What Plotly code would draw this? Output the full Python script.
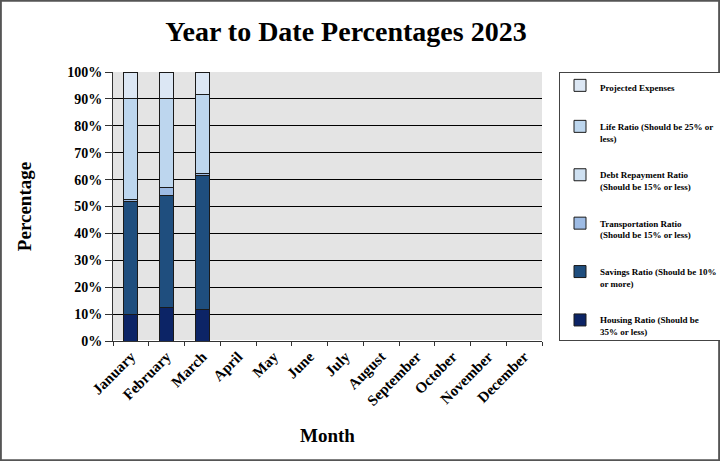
import plotly.graph_objects as go

months = ["January", "February", "March", "April", "May", "June", "July",
          "August", "September", "October", "November", "December"]

housing = [10.0, 12.3, 11.7]
savings = [41.7, 41.9, 49.7]
transportation = [1.0, 2.9, 0.9]
debt_repayment = [0.0, 0.0, 0.0]
life = [37.6, 33.2, 29.4]
projected = [9.7, 9.7, 8.3]

y_ticks = [0, 10, 20, 30, 40, 50, 60, 70, 80, 90, 100]
y_tick_labels = [f"{v}%" for v in y_ticks]

series = [
    ("Housing Ratio (Should be<br>35% or less)", housing, "#0C2466"),
    ("Savings Ratio (Should be 10%<br>or more)", savings, "#1F4E7E"),
    ("Transportation Ratio<br>(Should be 15% or less)", transportation, "#9DBBE4"),
    ("Debt Repayment Ratio<br>(Should be 15% or less)", debt_repayment, "#CFE1F2"),
    ("Life Ratio (Should be 25% or<br>less)", life, "#BDD6EE"),
    ("Projected Expenses", projected, "#DCE7F4"),
]

FONT = "Liberation Serif"
W, H = 720, 461
ML, MR, MT, MB = 113, 178, 72, 120
PW, PH = W - ML - MR, H - MT - MB

fig = go.Figure()
n = len(series)
for i, (name, vals, col) in enumerate(series):
    fig.add_trace(go.Bar(
        x=months[:len(vals)], y=vals, name=name, legendgroup=f"g{i}",
        legendrank=100 * (n - i),
        marker=dict(color=col, line=dict(color="#1a1a1a", width=1)),
    ))

fig.update_layout(
    width=W, height=H,
    margin=dict(l=ML, r=MR, t=MT, b=MB, autoexpand=False),
    barmode="stack", bargap=0.61,
    paper_bgcolor="white", plot_bgcolor="#E4E4E4",
    font=dict(family=FONT, color="black"),
    title=dict(text="<b>Year to Date Percentages 2023</b>", x=346 / W, xanchor="center",
               y=1 - 31 / H, yanchor="middle", font=dict(size=28, family=FONT)),
    xaxis=dict(categoryorder="array", categoryarray=months, range=[-0.5, 11.5],
               tickangle=-45, tickfont=dict(size=15, family=FONT, weight="bold"),
               showline=True, linecolor="#333", linewidth=1,
               ticks="outside", ticklen=4, tickcolor="#333", tickson="boundaries",
               title=dict(text="<b>Month</b>", font=dict(size=19, family=FONT), standoff=20)),
    yaxis=dict(range=[0, 100], tickvals=y_ticks, ticktext=y_tick_labels,
               tickfont=dict(size=14, family=FONT, weight="bold"),
               showgrid=True, gridcolor="black", gridwidth=1,
               showline=True, linecolor="#333", linewidth=1,
               ticks="outside", ticklen=7, tickcolor="#333",
               title=dict(text="<b>Percentage</b>", font=dict(size=19, family=FONT), standoff=30)),
    legend=dict(x=(559 - ML) / PW, xanchor="left", y=1.0, yanchor="top",
                tracegroupgap=22,
                bordercolor="#444", borderwidth=1, bgcolor="white",
                font=dict(size=9, family=FONT, weight="bold"),
                itemwidth=30, valign="top"),
    shapes=[dict(type="rect", xref="paper", yref="paper",
                 x0=-ML / PW + 0.002, x1=(W - ML) / PW - 0.002,
                 y0=-MB / PH + 0.003, y1=(H - MB) / PH - 0.003,
                 line=dict(color="#555", width=2), fillcolor="rgba(0,0,0,0)", layer="below")],
)

fig.write_html("out.html", config={"displayModeBar": False},
               post_script="document.body.style.margin='0';document.body.style.overflow='hidden';")
